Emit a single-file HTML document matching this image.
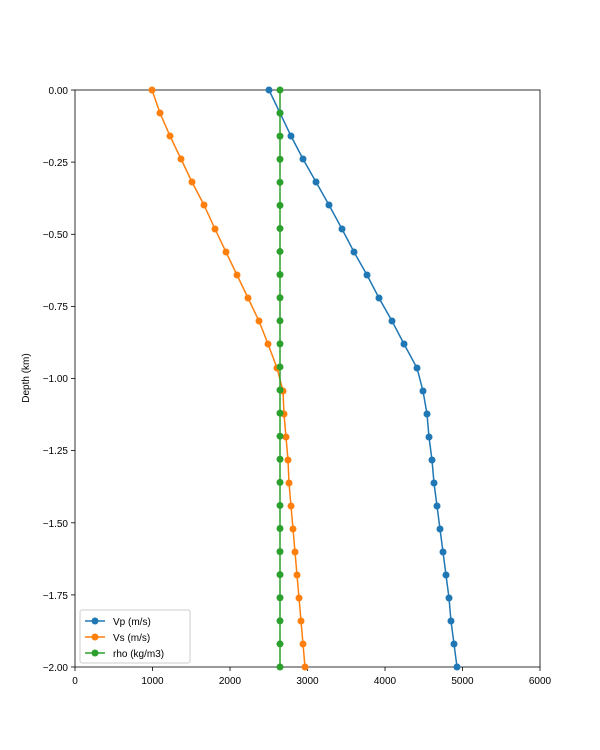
<!DOCTYPE html>
<html><head><style>body{margin:0;background:#fff}svg{display:block}text{font-family:"Liberation Sans","DejaVu Sans",sans-serif;font-size:10px;fill:#000}</style></head><body>
<svg width="600" height="750" viewBox="0 0 600 750">
<rect x="75" y="90" width="465" height="577" fill="none" stroke="#000" stroke-width="0.8"/>
<g stroke="#000" stroke-width="0.8">
<line x1="75" y1="667" x2="75" y2="671"/><line x1="152.5" y1="667" x2="152.5" y2="671"/><line x1="230" y1="667" x2="230" y2="671"/><line x1="307.5" y1="667" x2="307.5" y2="671"/><line x1="385" y1="667" x2="385" y2="671"/><line x1="462.5" y1="667" x2="462.5" y2="671"/><line x1="540" y1="667" x2="540" y2="671"/>
<line x1="71" y1="90" x2="75" y2="90"/><line x1="71" y1="162.1" x2="75" y2="162.1"/><line x1="71" y1="234.3" x2="75" y2="234.3"/><line x1="71" y1="306.4" x2="75" y2="306.4"/><line x1="71" y1="378.5" x2="75" y2="378.5"/><line x1="71" y1="450.6" x2="75" y2="450.6"/><line x1="71" y1="522.8" x2="75" y2="522.8"/><line x1="71" y1="594.9" x2="75" y2="594.9"/><line x1="71" y1="667" x2="75" y2="667"/>
</g>
<g text-anchor="middle"><text x="75" y="684">0</text><text x="152.5" y="684">1000</text><text x="230" y="684">2000</text><text x="307.5" y="684">3000</text><text x="385" y="684">4000</text><text x="462.5" y="684">5000</text><text x="540" y="684">6000</text></g>
<g text-anchor="end"><text x="68" y="94">0.00</text><text x="68" y="166">−0.25</text><text x="68" y="238">−0.50</text><text x="68" y="310">−0.75</text><text x="68" y="382">−1.00</text><text x="68" y="454">−1.25</text><text x="68" y="527">−1.50</text><text x="68" y="599">−1.75</text><text x="68" y="671">−2.00</text></g>
<text x="29" y="378" text-anchor="middle" transform="rotate(-90 29 378)">Depth (km)</text>
<g id="vp" fill="#1f77b4"><polyline fill="none" stroke="#1f77b4" stroke-width="1.5" points="269,90 280,113 291,136 303,159 316,182 329,205 342,229 354,252 367,275 379,298 392,321 404,344 417,368 423,391 427,414 429,437 432,460 434,483 437,506 440,529 443,552 446,575 449,598 451,621 454,644 457,667"/></g>
<g fill="#ff7f0e"><polyline fill="none" stroke="#ff7f0e" stroke-width="1.5" points="152,90 160,113 170,136 181,159 192,182 204,205 215,229 226,252 237,275 248,298 259,321 268,344 277,368 283,391 284,414 286,437 288,460 289,483 291,506 293,529 295,552 297,575 299,598 301,621 303,644 305,667"/></g>
<polyline fill="none" stroke="#2ca02c" stroke-width="1.5" points="280,90 280,667"/>
<g id="dots"></g>
<rect x="80" y="610" width="110" height="53" rx="2" fill="#fff" fill-opacity="0.8" stroke="#ccc"/>
<line x1="85" y1="621" x2="105" y2="621" stroke="#1f77b4" stroke-width="1.5"/><circle cx="95" cy="621" r="3.5" fill="#1f77b4"/><text x="113" y="625">Vp (m/s)</text>
<line x1="85" y1="637" x2="105" y2="637" stroke="#ff7f0e" stroke-width="1.5"/><circle cx="95" cy="637" r="3.5" fill="#ff7f0e"/><text x="113" y="641">Vs (m/s)</text>
<line x1="85" y1="653" x2="105" y2="653" stroke="#2ca02c" stroke-width="1.5"/><circle cx="95" cy="653" r="3.5" fill="#2ca02c"/><text x="113" y="657">rho (kg/m3)</text>
</svg>
<script>
var ns="http://www.w3.org/2000/svg",g=document.getElementById("dots");
var polys=document.querySelectorAll("polyline");
var cols=["#1f77b4","#ff7f0e"];
for(var k=0;k<2;k++){polys[k].getAttribute("points").trim().split(/\s+/).forEach(function(p){var a=p.split(",");var c=document.createElementNS(ns,"circle");c.setAttribute("cx",a[0]);c.setAttribute("cy",a[1]);c.setAttribute("r","3.5");c.setAttribute("fill",cols[k]);g.appendChild(c);});}
for(var i=0;i<26;i++){var c=document.createElementNS(ns,"circle");c.setAttribute("cx",280);c.setAttribute("cy",90+i*23.08);c.setAttribute("r","3.5");c.setAttribute("fill","#2ca02c");g.appendChild(c);}
</script>
</body></html>
